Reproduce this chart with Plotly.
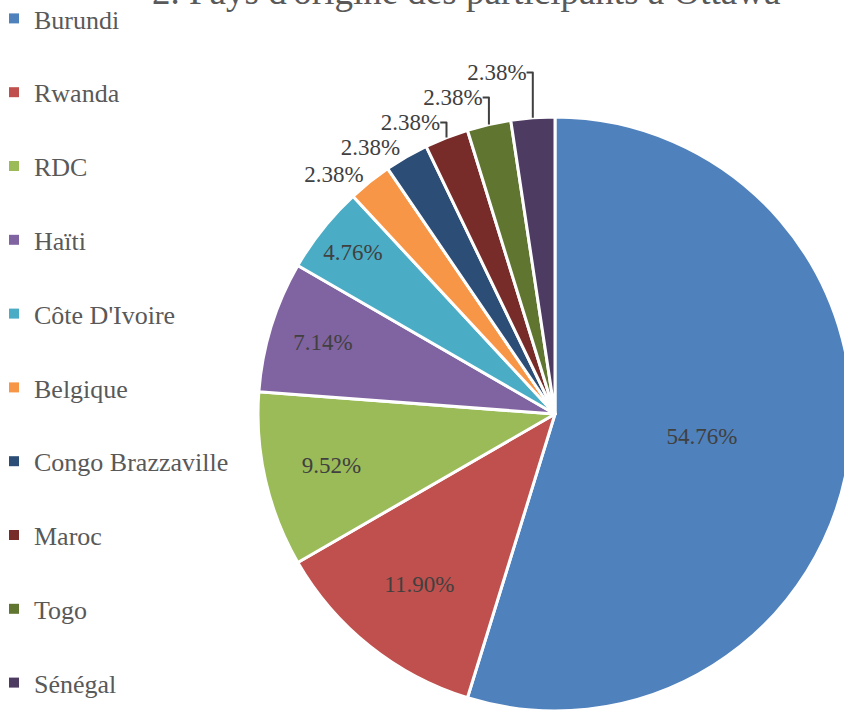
import plotly.graph_objects as go

countries = ["Burundi", "Rwanda", "RDC", "Haïti", "Côte D'Ivoire", "Belgique",
             "Congo Brazzaville", "Maroc", "Togo", "Sénégal"]
participants = [23, 5, 4, 3, 2, 1, 1, 1, 1, 1]
colors = ["#4F81BD", "#C0504D", "#9BBB59", "#8064A2", "#4BACC6", "#F79646",
          "#2C4D75", "#772C2A", "#5F7530", "#4D3B62"]
text_positions = ["inside"] * 5 + ["outside"] * 5
title_text = "2. Pays d'origine des participants à Ottawa"

W, H = 870, 713
FONT = "Liberation Serif"
label_font = dict(family=FONT, size=23, color="#404040")

fig = go.Figure()
fig.add_trace(go.Pie(
    labels=countries, values=participants, sort=False, direction="clockwise",
    rotation=0, marker=dict(colors=colors, line=dict(color="white", width=3)),
    texttemplate="%{percent:.2%}", textposition=text_positions,
    insidetextorientation="horizontal",
    textfont=label_font, insidetextfont=label_font, outsidetextfont=label_font,
    showlegend=False, hoverinfo="label+percent",
    domain=dict(x=[258 / W, 852 / W], y=[2 / H, 596 / H]),
))

for name, col in zip(countries, colors):
    fig.add_trace(go.Scatter(
        x=[None], y=[None], mode="markers", name=name, legendgroup=name,
        marker=dict(symbol="square", size=10, color=col),
    ))

fig.add_annotation(text=title_text, xref="paper", yref="paper", x=466 / W, y=1,
                   xanchor="center", yanchor="top", yshift=31, showarrow=False,
                   font=dict(family=FONT, size=37, color="#595959"))

fig.update_layout(
    width=W, height=H, margin=dict(l=0, r=0, t=0, b=0, autoexpand=False),
    font=dict(family=FONT, color="#404040"),
    paper_bgcolor="white", plot_bgcolor="white",
    xaxis=dict(visible=False), yaxis=dict(visible=False),
    legend=dict(x=-6 / W, y=1 + 5 / H, xanchor="left", yanchor="top",
                font=dict(family=FONT, size=26, color="#595959"),
                tracegroupgap=37, bgcolor="rgba(0,0,0,0)", maxheight=900),
    showlegend=True,
)

fig.write_html("out.html", config={"displayModeBar": False}, post_script=(
    "document.documentElement.style.overflow='hidden';"
    "document.body.style.overflow='hidden';document.body.style.margin='0';"))
